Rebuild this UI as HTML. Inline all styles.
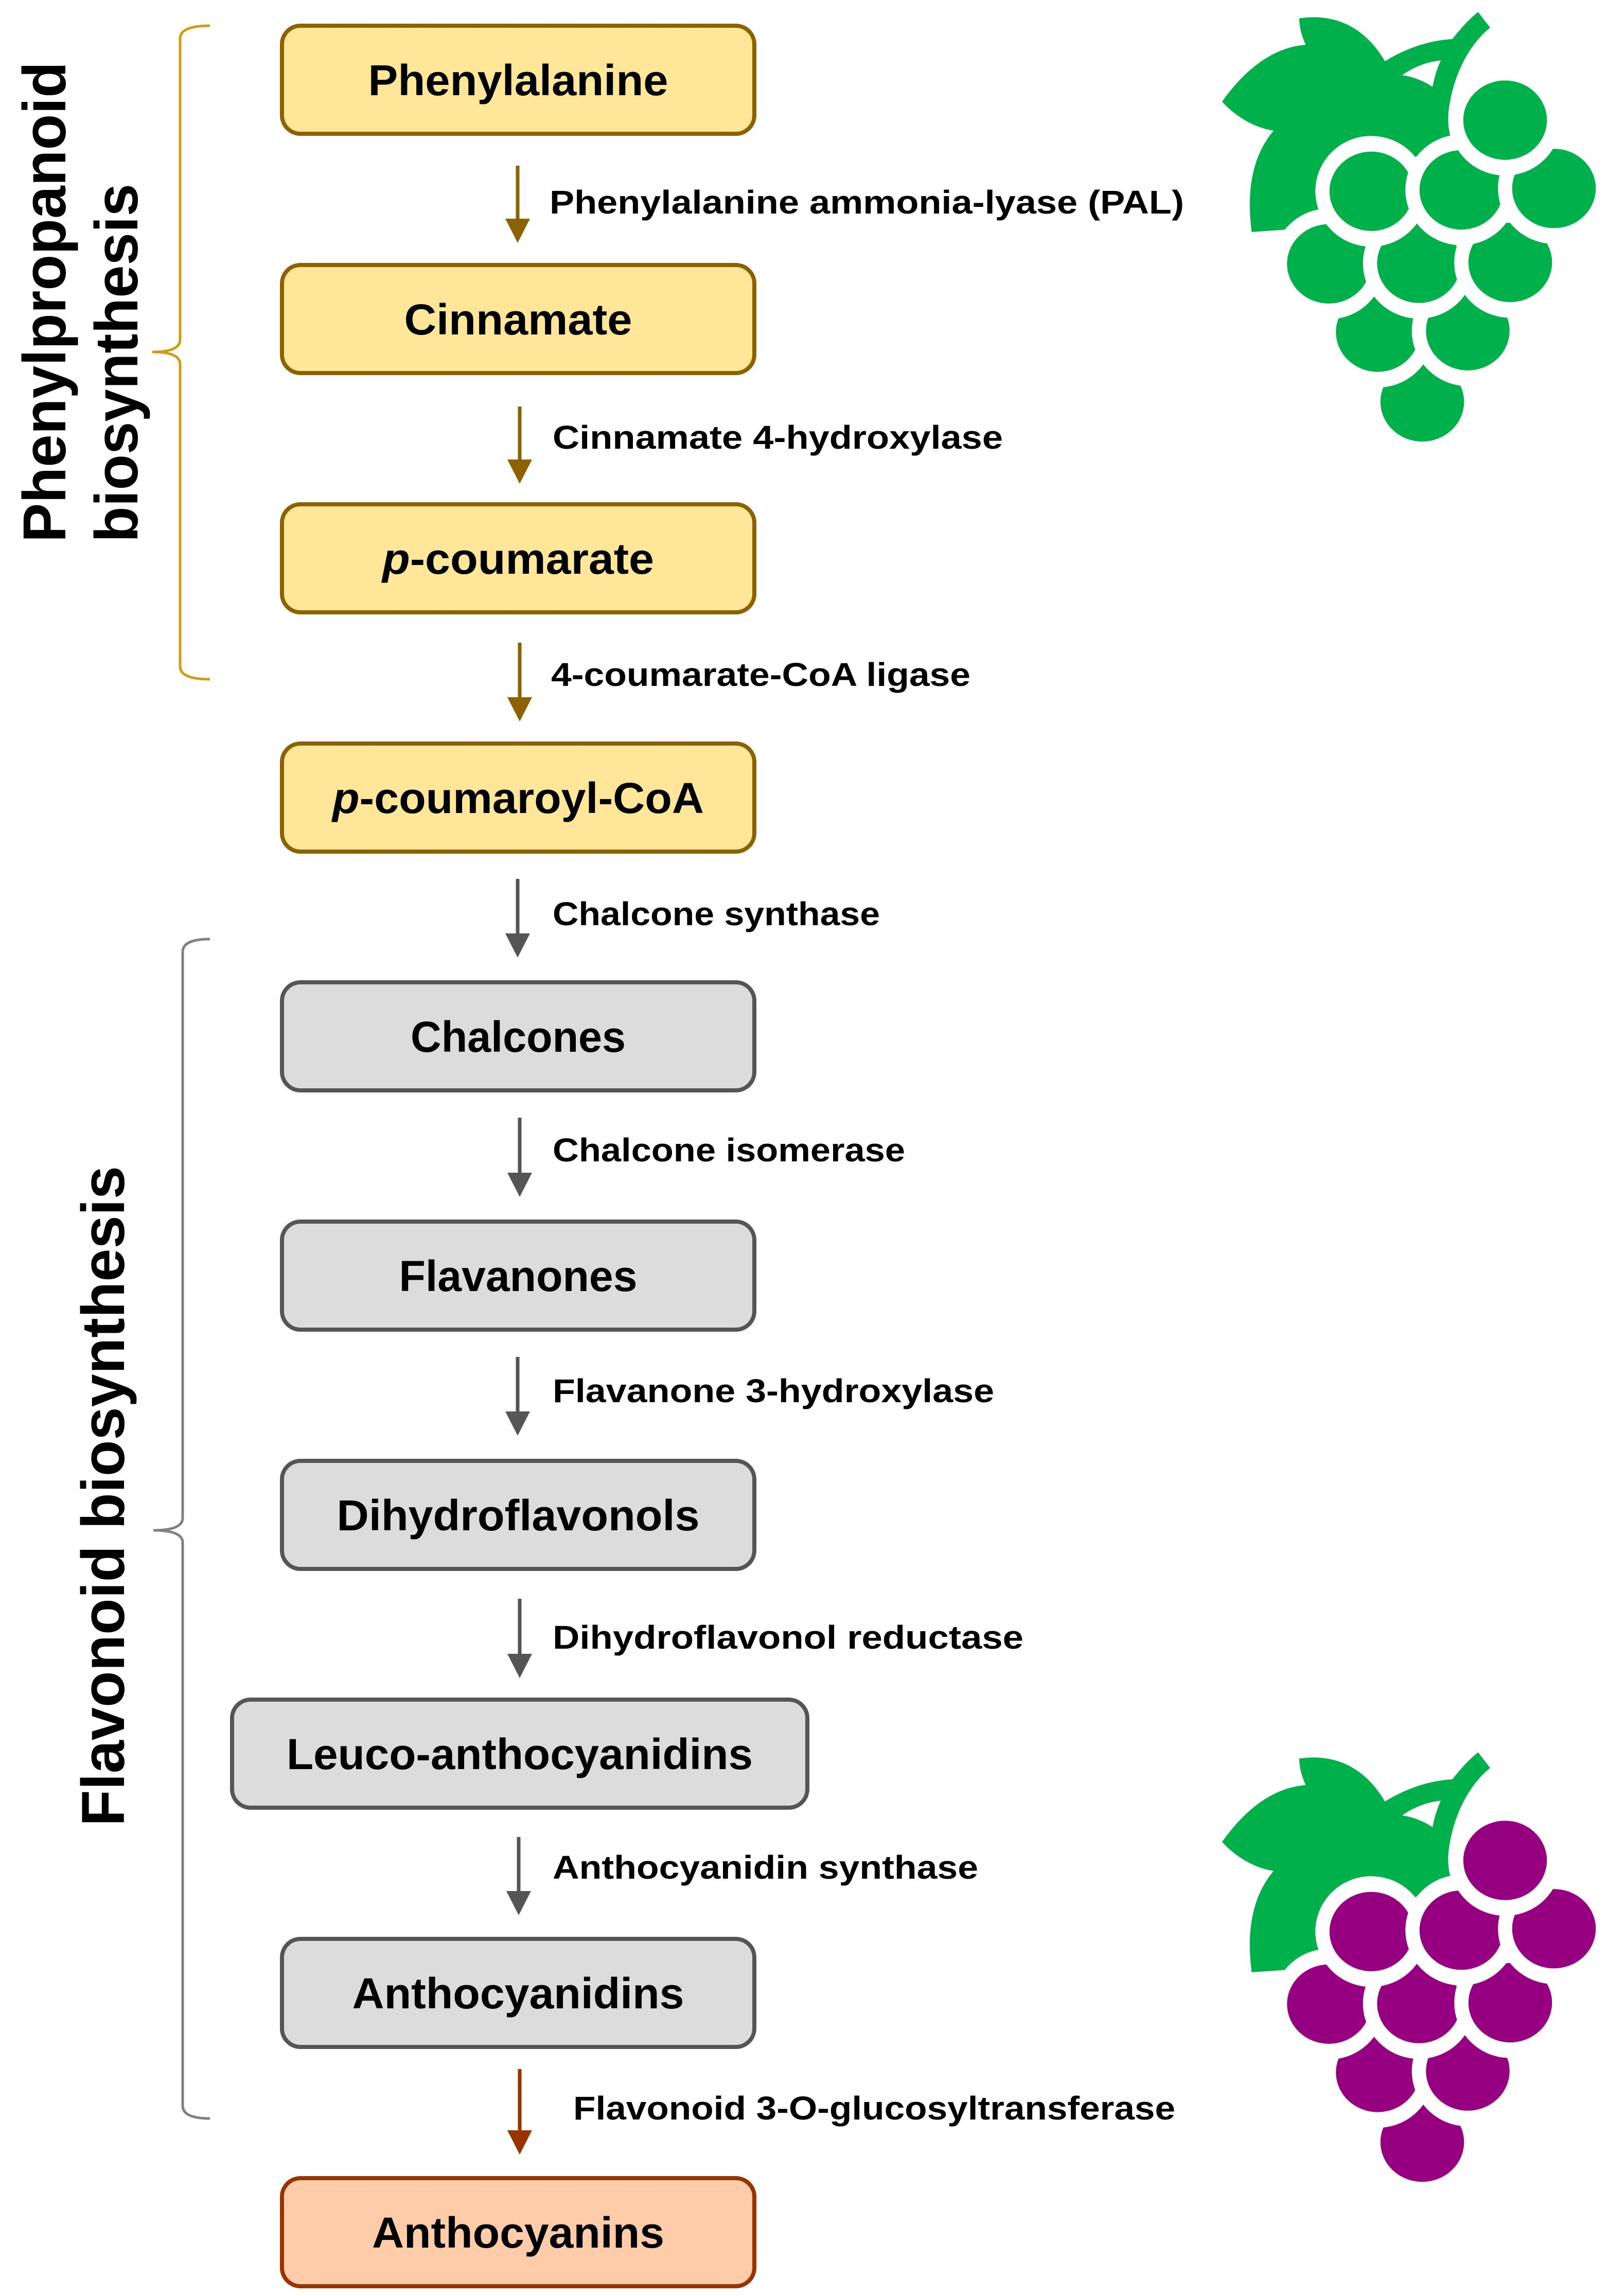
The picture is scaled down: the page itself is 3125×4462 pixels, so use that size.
<!DOCTYPE html>
<html><head><meta charset="utf-8"><style>
html,body{margin:0;padding:0;background:#fff;}
svg{display:block;}
.bt{font-family:"Liberation Sans",sans-serif;font-weight:bold;font-size:84px;fill:#000;}
.lt{font-family:"Liberation Sans",sans-serif;font-weight:bold;font-size:64px;fill:#000;}
.vt{font-family:"Liberation Sans",sans-serif;font-weight:bold;font-size:118px;fill:#000;}
</style></head><body>
<svg width="3125" height="4462" viewBox="0 0 3125 4462" xmlns="http://www.w3.org/2000/svg">
<defs>
<g id="bunch">
  <path d="M50,350 C120,260 230,160 375,150 C355,110 350,80 350,57 C480,40 600,80 683,208 C760,165 850,135 945,130 C980,90 1010,60 1045,35 L1092,90 C1010,150 955,250 935,355 C925,400 928,440 937,470 L810,540 L430,730 L295,800 L165,808 C150,700 150,560 250,452 C170,440 100,400 50,350Z" fill="#00B04A"/>
  <path d="M750,257 C800,225 850,210 900,205 C885,235 875,265 868,298 C830,275 790,262 750,257Z" fill="#fff"/>
</g>
</defs>

<!-- brackets -->
<path d="M408,50 Q350,50 350,75 L350,660 Q350,684 296,684 Q350,684 350,708 L350,1295 Q350,1320 408,1320" fill="none" stroke="#D39B12" stroke-width="5"/>
<path d="M408,1825 Q355,1825 355,1850 L355,2950 Q355,2974 298,2974 Q355,2974 355,2998 L355,4092 Q355,4117 408,4117" fill="none" stroke="#808080" stroke-width="5"/>

<!-- vertical labels -->
<text class="vt" transform="translate(127,1054) rotate(-90)" textLength="934" lengthAdjust="spacingAndGlyphs">Phenylpropanoid</text>
<text class="vt" transform="translate(267,1054) rotate(-90)" textLength="697" lengthAdjust="spacingAndGlyphs">biosynthesis</text>
<text class="vt" transform="translate(241,3549) rotate(-90)" textLength="1283" lengthAdjust="spacingAndGlyphs">Flavonoid biosynthesis</text>

<!-- boxes -->
<g stroke-width="8">
<rect x="548" y="50" width="918" height="210" rx="36" fill="#FFE699" stroke="#8C6200"/>
<rect x="548" y="515" width="918" height="210" rx="36" fill="#FFE699" stroke="#8C6200"/>
<rect x="548" y="980" width="918" height="210" rx="36" fill="#FFE699" stroke="#8C6200"/>
<rect x="548" y="1445" width="918" height="210" rx="36" fill="#FFE699" stroke="#8C6200"/>
<rect x="548" y="1909" width="918" height="210" rx="36" fill="#DCDCDC" stroke="#555555"/>
<rect x="548" y="2374" width="918" height="210" rx="36" fill="#DCDCDC" stroke="#555555"/>
<rect x="548" y="2839" width="918" height="210" rx="36" fill="#DCDCDC" stroke="#555555"/>
<rect x="451" y="3303" width="1118" height="210" rx="36" fill="#DCDCDC" stroke="#555555"/>
<rect x="548" y="3768" width="918" height="210" rx="36" fill="#DCDCDC" stroke="#555555"/>
<rect x="548" y="4233" width="918" height="210" rx="36" fill="#FFCCAA" stroke="#993300"/>
</g>
<g class="bt" text-anchor="middle">
<text x="1007" y="185" textLength="583" lengthAdjust="spacingAndGlyphs">Phenylalanine</text>
<text x="1007" y="650" textLength="443" lengthAdjust="spacingAndGlyphs">Cinnamate</text>
<text x="1007" y="1115" textLength="528" lengthAdjust="spacingAndGlyphs"><tspan font-style="italic">p</tspan>-coumarate</text>
<text x="1007" y="1580" textLength="722" lengthAdjust="spacingAndGlyphs"><tspan font-style="italic">p</tspan>-coumaroyl-CoA</text>
<text x="1007" y="2044" textLength="418" lengthAdjust="spacingAndGlyphs">Chalcones</text>
<text x="1007" y="2509" textLength="463" lengthAdjust="spacingAndGlyphs">Flavanones</text>
<text x="1007" y="2974" textLength="705" lengthAdjust="spacingAndGlyphs">Dihydroflavonols</text>
<text x="1010" y="3438" textLength="906" lengthAdjust="spacingAndGlyphs">Leuco-anthocyanidins</text>
<text x="1007" y="3903" textLength="645" lengthAdjust="spacingAndGlyphs">Anthocyanidins</text>
<text x="1007" y="4368" textLength="568" lengthAdjust="spacingAndGlyphs">Anthocyanins</text>
</g>

<!-- arrows -->
<g stroke-width="7">
<line x1="1006" y1="322" x2="1006" y2="430" stroke="#8C6200"/>
<line x1="1010" y1="790" x2="1010" y2="898" stroke="#8C6200"/>
<line x1="1010" y1="1249" x2="1010" y2="1360" stroke="#8C6200"/>
<line x1="1006" y1="1708" x2="1006" y2="1819" stroke="#555555"/>
<line x1="1010" y1="2172" x2="1010" y2="2284" stroke="#555555"/>
<line x1="1006" y1="2637" x2="1006" y2="2748" stroke="#555555"/>
<line x1="1010" y1="3107" x2="1010" y2="3219" stroke="#555555"/>
<line x1="1008" y1="3570" x2="1008" y2="3680" stroke="#555555"/>
<line x1="1010" y1="4021" x2="1010" y2="4145" stroke="#993300"/>
</g>
<g>
<polygon points="982,425 1030,425 1006,472" fill="#8C6200"/>
<polygon points="986,893 1034,893 1010,940" fill="#8C6200"/>
<polygon points="986,1355 1034,1355 1010,1402" fill="#8C6200"/>
<polygon points="982,1814 1030,1814 1006,1861" fill="#555555"/>
<polygon points="986,2279 1034,2279 1010,2326" fill="#555555"/>
<polygon points="982,2743 1030,2743 1006,2790" fill="#555555"/>
<polygon points="986,3214 1034,3214 1010,3261" fill="#555555"/>
<polygon points="984,3675 1032,3675 1008,3722" fill="#555555"/>
<polygon points="986,4140 1034,4140 1010,4187" fill="#993300"/>
</g>
<g class="lt">
<text x="1068" y="415" textLength="1233" lengthAdjust="spacingAndGlyphs">Phenylalanine ammonia-lyase (PAL)</text>
<text x="1074" y="872" textLength="875" lengthAdjust="spacingAndGlyphs">Cinnamate 4-hydroxylase</text>
<text x="1071" y="1333" textLength="815" lengthAdjust="spacingAndGlyphs">4-coumarate-CoA ligase</text>
<text x="1074" y="1798" textLength="636" lengthAdjust="spacingAndGlyphs">Chalcone synthase</text>
<text x="1074" y="2257" textLength="685" lengthAdjust="spacingAndGlyphs">Chalcone isomerase</text>
<text x="1074" y="2725" textLength="858" lengthAdjust="spacingAndGlyphs">Flavanone 3-hydroxylase</text>
<text x="1074" y="3204" textLength="915" lengthAdjust="spacingAndGlyphs">Dihydroflavonol reductase</text>
<text x="1074" y="3651" textLength="827" lengthAdjust="spacingAndGlyphs">Anthocyanidin synthase</text>
<text x="1114" y="4119" textLength="1170" lengthAdjust="spacingAndGlyphs">Flavonoid 3-O-glucosyltransferase</text>
</g>

<!-- grapes -->
<g transform="translate(2350,4) scale(0.5,0.553)">
  <use href="#bunch"/>
  <g fill="#00B04A" stroke="#fff" stroke-width="55">
    <ellipse cx="828" cy="1405" rx="190" ry="167"/>
    <ellipse cx="655" cy="1160" rx="190" ry="167"/>
    <ellipse cx="1005" cy="1155" rx="190" ry="167"/>
    <ellipse cx="465" cy="920" rx="190" ry="167"/>
    <ellipse cx="815" cy="918" rx="190" ry="167"/>
    <ellipse cx="1170" cy="915" rx="190" ry="167"/>
    <ellipse cx="630" cy="665" rx="190" ry="167"/>
    <ellipse cx="980" cy="660" rx="190" ry="167"/>
    <ellipse cx="1340" cy="655" rx="190" ry="167"/>
    <ellipse cx="1150" cy="415" rx="190" ry="167"/>
  </g>
</g>
<g transform="translate(2350,3386) scale(0.5,0.553)">
  <use href="#bunch"/>
  <g fill="#960080" stroke="#fff" stroke-width="55">
    <ellipse cx="828" cy="1405" rx="190" ry="167"/>
    <ellipse cx="655" cy="1160" rx="190" ry="167"/>
    <ellipse cx="1005" cy="1155" rx="190" ry="167"/>
    <ellipse cx="465" cy="920" rx="190" ry="167"/>
    <ellipse cx="815" cy="918" rx="190" ry="167"/>
    <ellipse cx="1170" cy="915" rx="190" ry="167"/>
    <ellipse cx="630" cy="665" rx="190" ry="167"/>
    <ellipse cx="980" cy="660" rx="190" ry="167"/>
    <ellipse cx="1340" cy="655" rx="190" ry="167"/>
    <ellipse cx="1150" cy="415" rx="190" ry="167"/>
  </g>
</g>
</svg>
</body></html>
